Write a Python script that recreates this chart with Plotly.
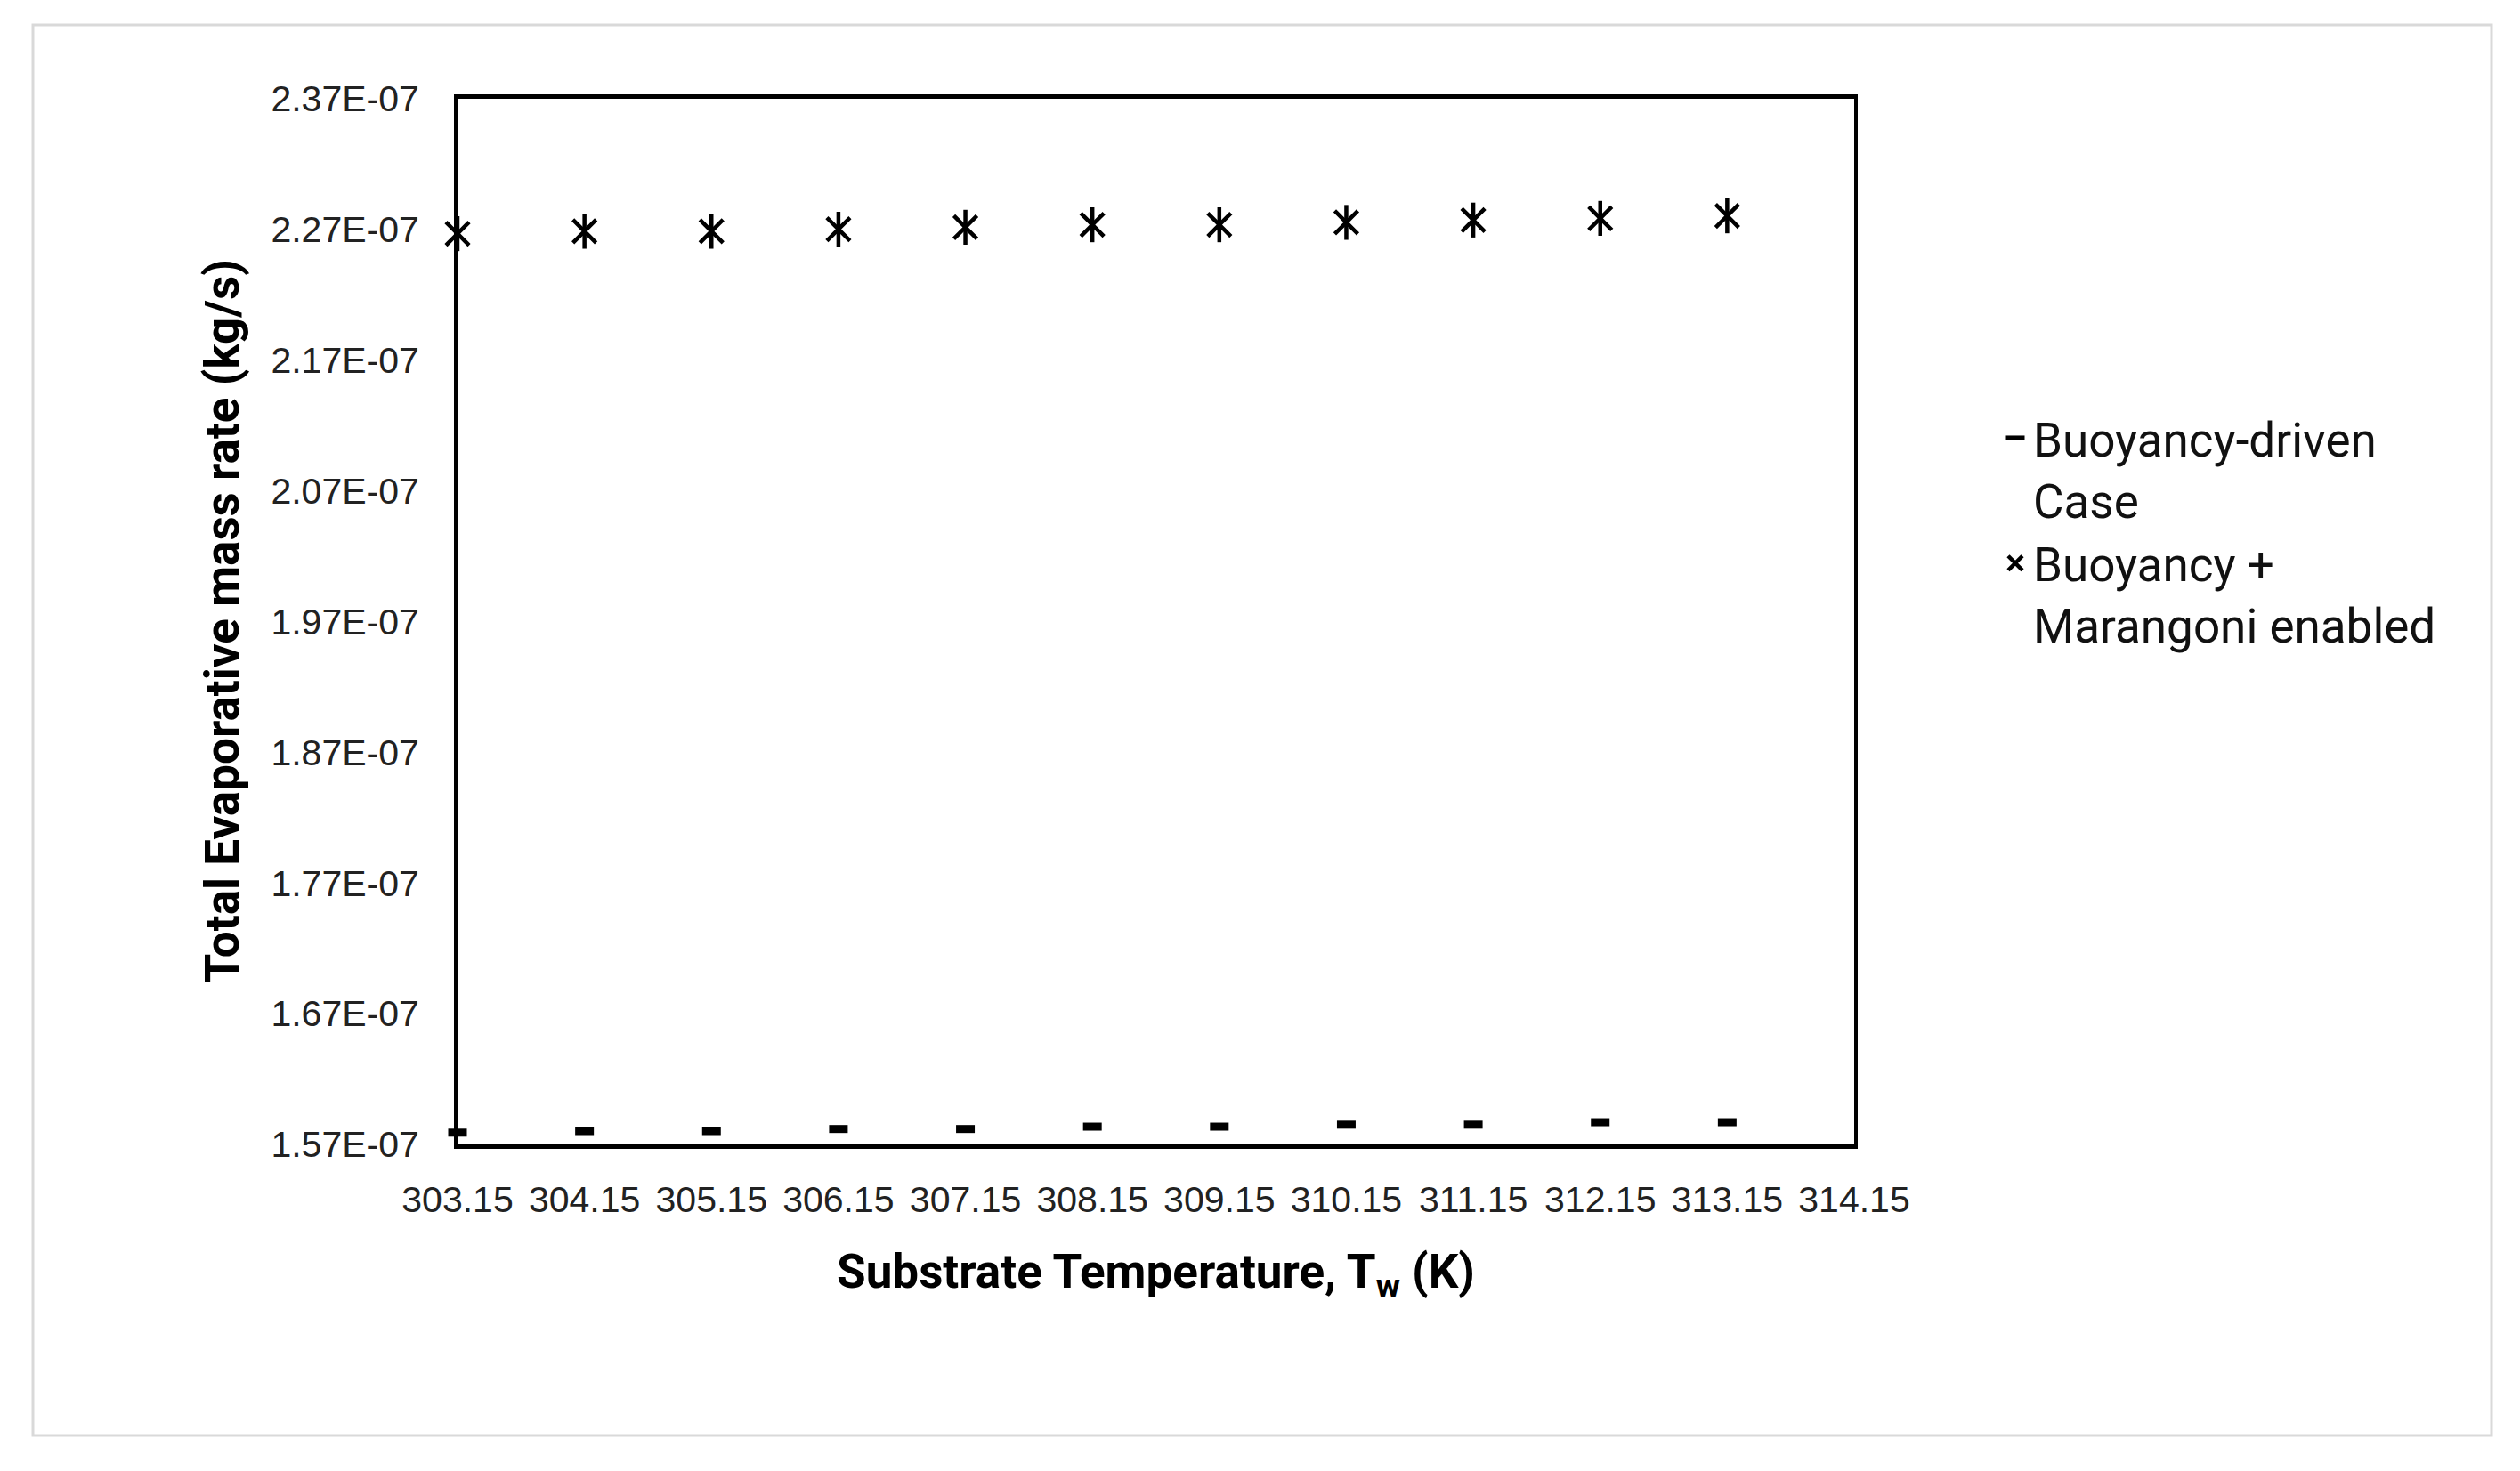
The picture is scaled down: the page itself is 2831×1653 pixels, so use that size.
import plotly.graph_objects as go

# ---------- Data ----------
temperature_k = [303.15, 304.15, 305.15, 306.15, 307.15, 308.15,
                 309.15, 310.15, 311.15, 312.15, 313.15]

# Buoyancy-driven case (kg/s)
buoyancy_rate = [1.5790e-7, 1.5802e-7, 1.5802e-7, 1.5818e-7, 1.5818e-7, 1.5836e-7,
                 1.5836e-7, 1.5851e-7, 1.5851e-7, 1.5870e-7, 1.5870e-7]

# Buoyancy + Marangoni enabled (kg/s)
marangoni_rate = [2.2668e-7, 2.2686e-7, 2.2686e-7, 2.2702e-7, 2.2717e-7, 2.2736e-7,
                  2.2736e-7, 2.2754e-7, 2.2772e-7, 2.2785e-7, 2.2804e-7]

x_tick_vals = [303.15, 304.15, 305.15, 306.15, 307.15, 308.15,
               309.15, 310.15, 311.15, 312.15, 313.15, 314.15]
x_tick_labels = ["303.15", "304.15", "305.15", "306.15", "307.15", "308.15",
                 "309.15", "310.15", "311.15", "312.15", "313.15", "314.15"]

y_tick_vals = [1.57e-7, 1.67e-7, 1.77e-7, 1.87e-7, 1.97e-7,
               2.07e-7, 2.17e-7, 2.27e-7, 2.37e-7]
y_tick_labels = ["1.57E-07", "1.67E-07", "1.77E-07", "1.87E-07", "1.97E-07",
                 "2.07E-07", "2.17E-07", "2.27E-07", "2.37E-07"]

# ---------- Figure ----------
OFF = 8                      # page body margin the browser adds around the plot div
W, H = 2831 - 2 * OFF, 1653 - 2 * OFF
L, R, T, B = 514 - OFF, 748 - OFF, 111 - OFF, 367 - OFF
pw, ph = W - L - R, H - T - B

# pixel positions below are in reference-picture pixels
def px_x(p): return (p - OFF - L) / pw
def px_y(p): return (H - B - (p - OFF)) / ph

fig = go.Figure()

fig.add_trace(go.Scatter(
    x=temperature_k, y=buoyancy_rate, mode="markers",
    name="Buoyancy-driven<br>Case",
    marker=dict(symbol="line-ew", size=15, color="black",
                line=dict(color="black", width=9)),
    cliponaxis=False,
))

# asterisk marker = thin X plus a vertical stroke
fig.add_trace(go.Scatter(
    x=temperature_k, y=marangoni_rate, mode="markers",
    name="Buoyancy +<br>Marangoni enabled",
    marker=dict(symbol="x-thin-open", size=26, color="black",
                line=dict(color="black", width=4.5)),
    cliponaxis=False,
))
fig.add_trace(go.Scatter(
    x=temperature_k, y=marangoni_rate, mode="markers",
    showlegend=False, hoverinfo="skip",
    marker=dict(symbol="line-ns-open", size=28, color="black",
                line=dict(color="black", width=4.5)),
    cliponaxis=False,
))

fig.update_xaxes(
    range=[303.15, 314.15], tickvals=x_tick_vals, ticktext=x_tick_labels,
    showgrid=False, zeroline=False, ticks="",
    showline=True, linecolor="black", linewidth=5, mirror=True,
    tickfont=dict(family="Liberation Sans", size=41, color="#222222"),
    ticklabelstandoff=22,
)
fig.update_yaxes(
    range=[1.57e-7, 2.37e-7], tickvals=y_tick_vals, ticktext=y_tick_labels,
    showgrid=False, zeroline=False, ticks="",
    showline=True, linecolor="black", linewidth=4, mirror=True,
    tickfont=dict(family="Liberation Sans", size=41, color="#222222"),
    ticklabelstandoff=31,
)

title_font = dict(family="Roboto", size=53, color="black")
fig.add_annotation(
    text="<b>Substrate Temperature, T<sub>w</sub> (K)</b>",
    xref="paper", yref="paper", x=0.5, y=px_y(1432),
    xanchor="center", yanchor="middle", showarrow=False, font=title_font,
)
fig.add_annotation(
    text="<b>Total Evaporative mass rate (kg/s)</b>",
    xref="paper", yref="paper", x=px_x(249), y=0.5, textangle=-90,
    xanchor="center", yanchor="middle", showarrow=False, font=title_font,
)

# light grey chart-area border
fig.add_shape(
    type="rect", xref="paper", yref="paper",
    x0=px_x(37), x1=px_x(2799), y0=px_y(1613), y1=px_y(28),
    line=dict(color="#d9d9d9", width=3), fillcolor="rgba(0,0,0,0)", layer="below",
)

fig.update_layout(
    width=W, height=H,
    margin=dict(l=L, r=R, t=T, b=B),
    paper_bgcolor="white", plot_bgcolor="white",
    showlegend=True,
    legend=dict(
        x=px_x(2244), y=px_y(451), xanchor="left", yanchor="top",
        font=dict(family="Roboto", size=53, color="#111111"),
        valign="top", bgcolor="rgba(0,0,0,0)", itemwidth=30,
    ),
)

fig.write_html("out.html")
